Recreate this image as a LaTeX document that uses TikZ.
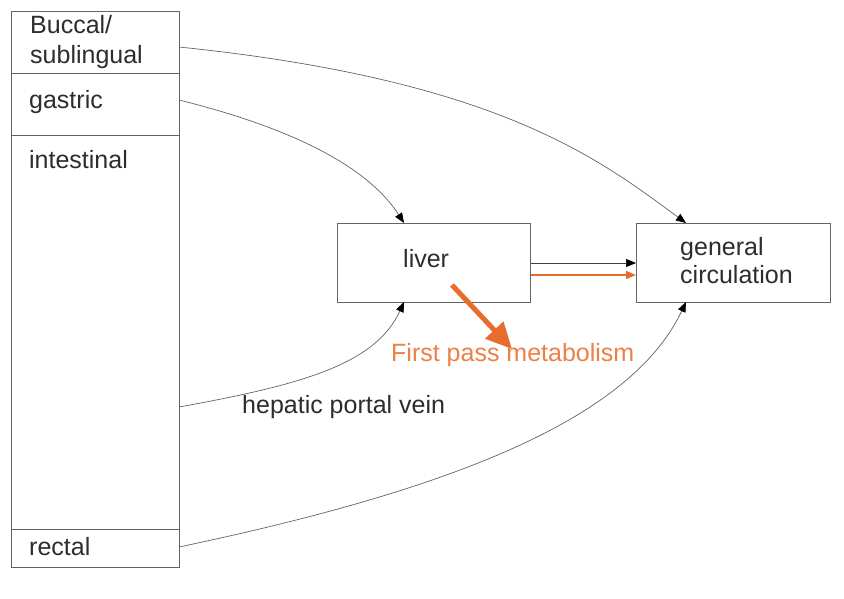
\documentclass[tikz,border=0pt]{standalone}
\usepackage{fontspec}
\setmainfont{Liberation Sans}
\usetikzlibrary{arrows.meta,calc}
\definecolor{lin}{RGB}{100,100,100}
\definecolor{org}{RGB}{232,108,44}
\definecolor{orgtxt}{RGB}{236,128,70}
\definecolor{txt}{RGB}{45,45,45}
\begin{document}
\begin{tikzpicture}[x=1pt,y=-1pt,
  box/.style={draw=lin,line width=1pt,anchor=north west,inner sep=0pt},
  lbl/.style={anchor=base west,inner sep=0pt,font=\fontsize{25}{30}\selectfont,text=txt},
  conn/.style={draw=lin,line width=0.7pt,-{Triangle[length=10pt,width=8pt,color=black]}}]
\useasboundingbox (0,0) rectangle (844,598);
\fill[white] (0,0) rectangle (844,598);
% left column
\node[box,minimum width=168pt,minimum height=62pt] (buccal) at (11,11) {};
\node[box,minimum width=168pt,minimum height=62pt] (gastric) at (11,73) {};
\node[box,minimum width=168pt,minimum height=394pt] (intestinal) at (11,135) {};
\node[box,minimum width=168pt,minimum height=38pt] (rectal) at (11,529) {};
\node[lbl] (tb1) at (30,33) {Buccal/};
\node[lbl] (tb2) at (30,63) {sublingual};
\node[lbl] (tg) at (29,108) {gastric};
\node[lbl] (ti) at (29,168) {intestinal};
\node[lbl] (tr) at (29,555) {rectal};
% liver and general circulation
\node[box,minimum width=193pt,minimum height=79pt] (liver) at (337,223) {};
\node[lbl] (tl) at (403,267) {liver};
\node[box,minimum width=194pt,minimum height=79pt] (gc) at (636,223) {};
\node[lbl] (tgc1) at (680,255) {general};
\node[lbl] (tgc2) at (680,283) {circulation};
% connector endpoints
\coordinate (sb) at (179,47);
\coordinate (sg) at (179,100);
\coordinate (si) at (179,407);
\coordinate (sr) at (179,547);
\coordinate (lt) at (404,223);
\coordinate (lb) at (404,302);
\coordinate (gt) at (686,223);
\coordinate (gb) at (686,302);
\draw[conn] (sb) .. controls (500,80) and (600,160) .. (gt);
\draw[conn] (sg) .. controls (300,130) and (370,170) .. (lt);
\draw[conn] (si) .. controls (300,385) and (375,365) .. (lb);
\draw[conn] (sr) .. controls (450,490) and (630,420) .. (gb);
% liver to general circulation
\draw[conn,draw=black!75] (liver.east |- 0,263) -- (gc.west |- 0,263);
\draw[draw=org,line width=1.5pt,-{Triangle[length=10pt,width=8pt]}] (liver.east |- 0,275) -- (gc.west |- 0,275);
% first pass
\coordinate (fs) at (452,285);
\coordinate (fe) at (512,349);
\draw[org,line width=5pt,-{Triangle[length=26pt,width=24pt]}] (fs) -- (fe);
\node[lbl,text=orgtxt] (fp) at (391,361) {First pass metabolism};
\node[lbl] (hpv) at (242,413) {hepatic portal vein};
\end{tikzpicture}
\end{document}
